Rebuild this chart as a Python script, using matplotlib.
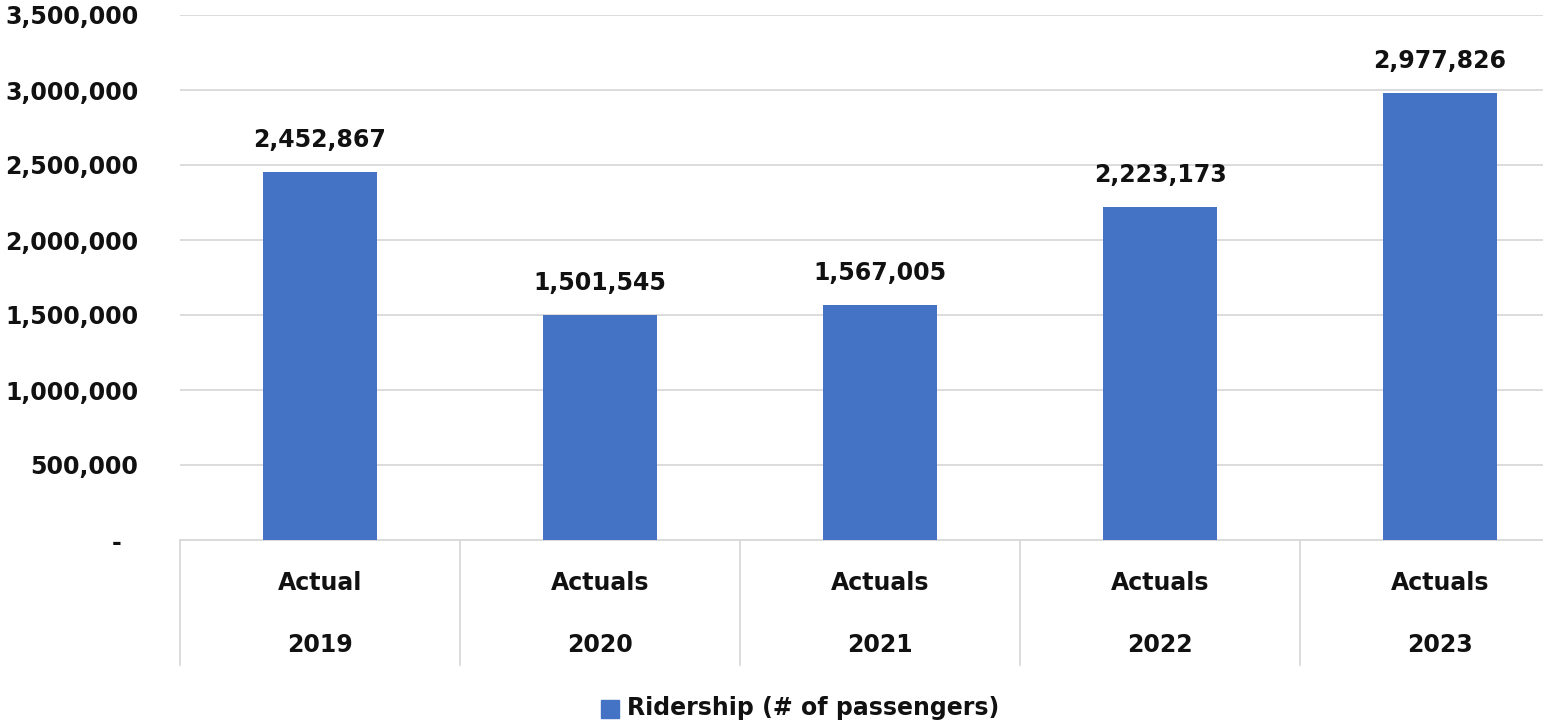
import matplotlib
matplotlib.use("Agg")
import matplotlib.pyplot as plt
from matplotlib.ticker import FuncFormatter
from matplotlib.transforms import blended_transform_factory
from matplotlib.patches import Rectangle

# Annual ridership figures
status = ["Actual", "Actuals", "Actuals", "Actuals", "Actuals"]
years = ["2019", "2020", "2021", "2022", "2023"]
ridership = [2452867, 1501545, 1567005, 2223173, 2977826]
series_name = "Ridership (# of passengers)"

BAR = "#4472C4"
GRID = "#D9D9D9"
TXT = "#111111"
FS = 17

plt.rcParams["font.family"] = ["DejaVu Sans"]
plt.rcParams["font.weight"] = "bold"

fig = plt.figure(figsize=(15.43, 7.26), dpi=100)
W, H = 1543, 726
ax = fig.add_axes([180 / W, 1 - 540 / H, (1580 - 180) / W, (540 - 15) / H])

x = list(range(len(years)))
ax.bar(x, ridership, width=0.41, color=BAR, zorder=3)
ax.set_xlim(-0.5, len(years) - 0.5)
ax.set_ylim(0, 3500000)
ax.set_yticks(range(0, 3500001, 500000))


def fmt(v, _):
    return "-  " if v == 0 else f"{int(v):,}"


ax.yaxis.set_major_formatter(FuncFormatter(fmt))
ax.tick_params(axis="y", length=0, pad=30, labelsize=FS, labelcolor=TXT)
ax.set_xticks([])
ax.grid(axis="y", color=GRID, linewidth=1.3, zorder=0)
for s in ["top", "right", "left"]:
    ax.spines[s].set_visible(False)
ax.spines["bottom"].set_color(GRID)
ax.spines["bottom"].set_linewidth(1.3)

for xi, v in zip(x, ridership):
    ax.annotate(f"{v:,}", (xi, v), xytext=(0, 18), textcoords="offset points",
                ha="center", va="baseline", fontsize=FS, fontweight="bold",
                color=TXT)

# Two-level category axis below the plot
trans = blended_transform_factory(ax.transData, ax.transAxes)
axis_h = (540 - 15)
y_status = -(583 - 540) / axis_h
y_year = -(645 - 540) / axis_h
y_sep = -(665 - 540) / axis_h
for xi, st, yr in zip(x, status, years):
    ax.text(xi, y_status, st, transform=trans, ha="center", va="center",
            fontsize=FS, fontweight="bold", color=TXT)
    ax.text(xi, y_year, yr, transform=trans, ha="center", va="center",
            fontsize=FS, fontweight="bold", color=TXT)
for b in [i - 0.5 for i in range(len(years) + 1)]:
    ax.plot([b, b], [0, y_sep], transform=trans, color=GRID, linewidth=1.3,
            clip_on=False)

# Legend
fig.patches.append(Rectangle((601 / W, 1 - 718 / H), 18 / W, 18 / H,
                             transform=fig.transFigure, color=BAR))
fig.text(627 / W, 1 - 708 / H, series_name, ha="left", va="center",
         fontsize=FS, fontweight="bold", color=TXT)

fig.savefig("out.png", dpi=100)
